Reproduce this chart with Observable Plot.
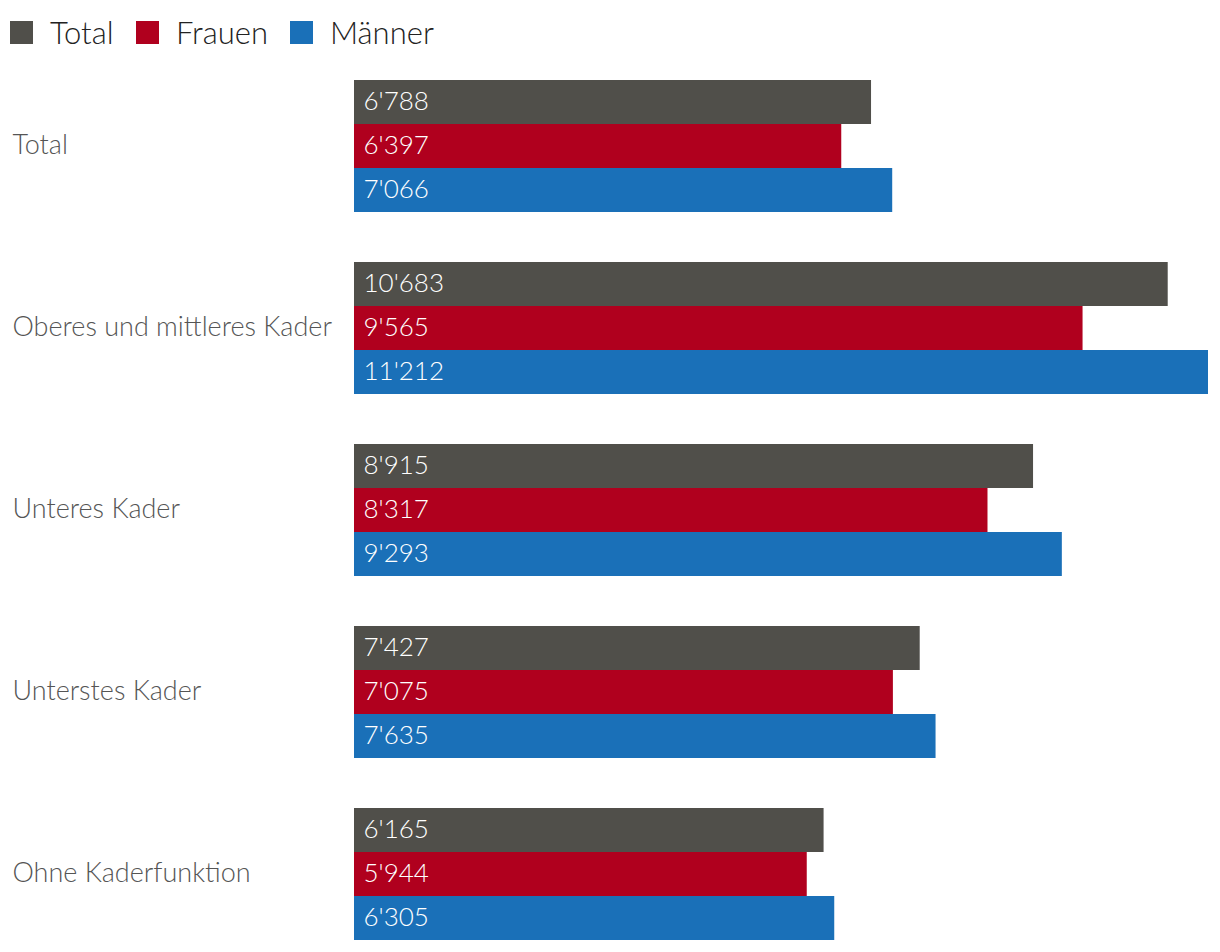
<!DOCTYPE html>
<html><head><meta charset="utf-8">
<script src="https://cdn.jsdelivr.net/npm/d3@7"></script>
<script src="https://cdn.jsdelivr.net/npm/@observablehq/plot@0.6"></script>
<style>
body{margin:0;background:#fff;font-family:Lato,"Open Sans",sans-serif;font-weight:300;}
#legend{height:70px;display:flex;align-items:center;padding-left:10px;box-sizing:border-box;padding-bottom:6px;}
.item{display:flex;align-items:center;font-size:31px;color:#222;}
.sw{width:23px;height:23px;margin-right:17px;display:inline-block;}
</style></head><body>
<div id="legend"></div>
<div id="chart"></div>
<script>
const categories = ["Total","Oberes und mittleres Kader","Unteres Kader","Unterstes Kader","Ohne Kaderfunktion"];
const series = ["Total","Frauen","Männer"];
const totalValues = [6788,10683,8915,7427,6165];
const frauenValues = [6397,9565,8317,7075,5944];
const maennerValues = [7066,11212,9293,7635,6305];
const colors = ["#504f4a","#b0001e","#1a70b8"];

const data = [];
categories.forEach((c,i)=>{
  data.push({cat:c, s:"Total", v:totalValues[i]});
  data.push({cat:c, s:"Frauen", v:frauenValues[i]});
  data.push({cat:c, s:"Männer", v:maennerValues[i]});
});
const fmt = d3.formatLocale({decimal:".",thousands:"'",grouping:[3],currency:["",""]}).format(",d");

const legend = document.getElementById("legend");
const itemWidths = [126,154,null];
series.forEach((s,i)=>{
  const it=document.createElement("div");it.className="item";
  if(itemWidths[i]) it.style.width=itemWidths[i]+"px";
  const sw=document.createElement("span");sw.className="sw";sw.style.background=colors[i];
  it.appendChild(sw);it.appendChild(document.createTextNode(s));legend.appendChild(it);
});

const chart = Plot.plot({
  width:1220, height:882,
  marginLeft:354, marginRight:12, marginTop:10, marginBottom:12,
  style:{fontFamily:"Lato, 'Open Sans', sans-serif", fontWeight:300, background:"#fff"},
  x:{domain:[0,d3.max(maennerValues)], axis:null},
  y:{domain:series, padding:0, axis:null},
  fy:{domain:categories, paddingInner:50/182, paddingOuter:0, axis:null},
  color:{domain:series, range:colors},
  marks:[
    Plot.barX(data,{fy:"cat", y:"s", x:"v", fill:"s"}),
    Plot.text(data,{fy:"cat", y:"s", x:0, text:d=>fmt(d.v), dx:9, dy:-1, textAnchor:"start", fill:"white", fontSize:26}),
    Plot.text(categories,{fy:d=>d, text:d=>d, frameAnchor:"left", dx:-342, dy:-1, textAnchor:"start", fill:"#555", fontSize:27})
  ]
});
document.getElementById("chart").appendChild(chart);
</script></body></html>
